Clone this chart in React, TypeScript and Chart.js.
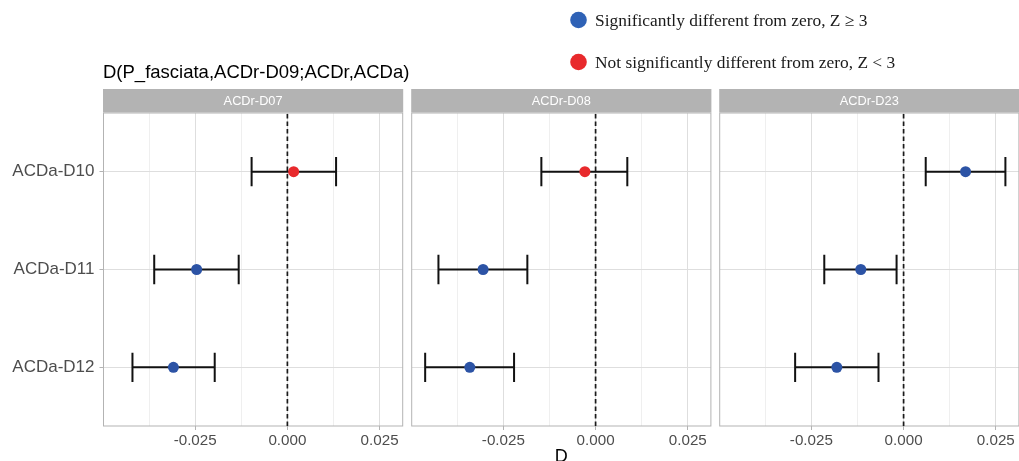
import React, { useEffect, useRef } from "react";
import { Chart, registerables } from "chart.js";

Chart.register(...registerables);

// ---------------- data ----------------
const plotTitle = "D(P_fasciata,ACDr-D09;ACDr,ACDa)";
const axisTitle = "D";
const categories = ["ACDa-D10", "ACDa-D11", "ACDa-D12"];
const facets = ["ACDr-D07", "ACDr-D08", "ACDr-D23"];

const dD07 = [0.0017, -0.0246, -0.0309];
const loD07 = [-0.0097, -0.0361, -0.042];
const hiD07 = [0.0132, -0.0132, -0.0197];
const sigD07 = [false, true, true];

const dD08 = [-0.0029, -0.0305, -0.0341];
const loD08 = [-0.0147, -0.0426, -0.0462];
const hiD08 = [0.0086, -0.0185, -0.0221];
const sigD08 = [false, true, true];

const dD23 = [0.0168, -0.0116, -0.0181];
const loD23 = [0.006, -0.0215, -0.0294];
const hiD23 = [0.0276, -0.0019, -0.0068];
const sigD23 = [true, true, true];

const xMajorTicks = [-0.025, 0, 0.025];
const xMajorLabels = ["-0.025", "0.000", "0.025"];
const xMinorTicks = [-0.0375, -0.0125, 0.0125];
const xMin = -0.04985;
const xMax = 0.03126;

const legendLabels = [
  "Significantly different from zero, Z \u2265 3",
  "Not significantly different from zero, Z < 3",
];

// ---------------- styling / layout ----------------
const W = 1019;
const H = 461;
const BLUE = "#2c53a5";
const RED = "#e8292c";
const LEGEND_BLUE = "#2f62b6";
const LEGEND_RED = "#e8292c";
const SANS = "'Liberation Sans', Arial, sans-serif";
const SERIF = "'Liberation Serif', 'Times New Roman', serif";
const panelBoxes = [
  { left: 103.5, right: 402.7 },
  { left: 411.7, right: 710.9 },
  { left: 719.7, right: 1018.9 },
];
const PANEL_TOP = 113;
const X_AXIS_H = 35;
const STRIP_TOP = 89;

const facetValues = [
  { d: dD07, lo: loD07, hi: hiD07, sig: sigD07 },
  { d: dD08, lo: loD08, hi: hiD08, sig: sigD08 },
  { d: dD23, lo: loD23, hi: hiD23, sig: sigD23 },
];

const catPos = (i: number) => categories.length - i;
const isMajor = (v: number) => xMajorTicks.some((t) => Math.abs(t - v) < 1e-9);

const decorPlugin = {
  id: "panelDecor",
  beforeDatasetsDraw(chart: any, _args: any, opts: any) {
    const { ctx, chartArea: a } = chart;
    const x = chart.scales.x;
    const y = chart.scales.y;
    const f = facetValues[opts.panel];
    ctx.save();
    // panel border
    ctx.strokeStyle = "#b3b3b3";
    ctx.lineWidth = 1;
    ctx.strokeRect(a.left, a.top, a.right - a.left, a.bottom - a.top);
    // zero reference line
    const zx = x.getPixelForValue(0);
    ctx.strokeStyle = "#1a1a1a";
    ctx.lineWidth = 1.7;
    ctx.setLineDash([4.5, 3]);
    ctx.beginPath();
    ctx.moveTo(zx, a.bottom);
    ctx.lineTo(zx, a.top);
    ctx.stroke();
    ctx.setLineDash([]);
    // error bars
    ctx.strokeStyle = "#111111";
    ctx.lineWidth = 2;
    ctx.lineCap = "butt";
    f.d.forEach((_v: number, i: number) => {
      const yc = y.getPixelForValue(catPos(i));
      const y0 = y.getPixelForValue(catPos(i) + 0.15);
      const y1 = y.getPixelForValue(catPos(i) - 0.15);
      const xl = x.getPixelForValue(f.lo[i]);
      const xr = x.getPixelForValue(f.hi[i]);
      ctx.beginPath();
      ctx.moveTo(xl, yc);
      ctx.lineTo(xr, yc);
      ctx.moveTo(xl, y0);
      ctx.lineTo(xl, y1);
      ctx.moveTo(xr, y0);
      ctx.lineTo(xr, y1);
      ctx.stroke();
    });
    ctx.restore();
  },
  afterDraw(chart: any, _args: any, opts: any) {
    const { ctx, chartArea: a } = chart;
    ctx.save();
    // strip
    ctx.fillStyle = "#b3b3b3";
    ctx.fillRect(a.left - 0.5, STRIP_TOP, a.right - a.left + 1, a.top - 0.5 - STRIP_TOP);
    ctx.fillStyle = "#ffffff";
    ctx.font = `12.8px ${SANS}`;
    ctx.textAlign = "center";
    ctx.textBaseline = "middle";
    ctx.fillText(facets[opts.panel], (a.left + a.right) / 2, (STRIP_TOP + a.top) / 2 + 0.5);

    if (opts.panel === 0) {
      // title
      ctx.fillStyle = "#000000";
      ctx.font = `18.5px ${SANS}`;
      ctx.textAlign = "left";
      ctx.textBaseline = "alphabetic";
      ctx.fillText(plotTitle, 103, 78);
      // legend
      const colors = [LEGEND_BLUE, LEGEND_RED];
      const ys = [20, 62];
      legendLabels.forEach((lab, i) => {
        ctx.fillStyle = colors[i];
        ctx.beginPath();
        ctx.arc(578.5, ys[i], 8.3, 0, Math.PI * 2);
        ctx.fill();
        ctx.fillStyle = "#1a1a1a";
        ctx.font = `17.4px ${SERIF}`;
        ctx.textAlign = "left";
        ctx.textBaseline = "middle";
        ctx.fillText(lab, 595, ys[i] + 1);
      });
    }
    if (opts.panel === 1) {
      ctx.fillStyle = "#000000";
      ctx.font = `18px ${SANS}`;
      ctx.textAlign = "center";
      ctx.textBaseline = "alphabetic";
      ctx.fillText(axisTitle, (a.left + a.right) / 2, 462);
    }
    ctx.restore();
  },
};

function Panel({ panel }: { panel: number }) {
  const ref = useRef<HTMLCanvasElement>(null);
  useEffect(() => {
    const f = facetValues[panel];
    const box = panelBoxes[panel];
    const showY = panel === 0;
    const chart = new Chart(ref.current as HTMLCanvasElement, {
      type: "scatter",
      data: {
        datasets: [
          {
            data: f.d.map((v, i) => ({ x: v, y: catPos(i) })),
            backgroundColor: f.sig.map((s) => (s ? BLUE : RED)),
            borderWidth: 0,
            pointRadius: 5.5,
            pointHoverRadius: 5.5,
            clip: false,
          },
        ],
      },
      options: {
        animation: false,
        responsive: false,
        maintainAspectRatio: false,
        devicePixelRatio: 1,
        events: [],
        layout: {
          autoPadding: false,
          padding: {
            left: showY ? 0 : box.left,
            right: W - box.right,
            top: PANEL_TOP,
            bottom: 0,
          },
        },
        plugins: {
          legend: { display: false },
          tooltip: { enabled: false },
          title: { display: false },
          panelDecor: { panel },
        } as any,
        scales: {
          x: {
            type: "linear",
            position: "bottom",
            min: xMin,
            max: xMax,
            afterBuildTicks: (scale: any) => {
              scale.ticks = [...xMinorTicks, ...xMajorTicks]
                .sort((p, q) => p - q)
                .map((v) => ({ value: v }));
            },
            afterFit: (scale: any) => {
              scale.height = X_AXIS_H;
              scale.paddingLeft = 0;
              scale.paddingRight = 0;
            },
            border: { display: false },
            grid: {
              color: (c: any) => (isMajor(c.tick.value) ? "#dedede" : "#efefef"),
              tickColor: (c: any) => (isMajor(c.tick.value) ? "#b3b3b3" : "rgba(0,0,0,0)"),
              lineWidth: 1,
              tickLength: 4,
              drawTicks: true,
            },
            ticks: {
              autoSkip: false,
              maxRotation: 0,
              padding: 2,
              color: "#4d4d4d",
              font: { family: SANS, size: 15.2 },
              callback: (v: any) => {
                const idx = xMajorTicks.findIndex((t) => Math.abs(t - Number(v)) < 1e-9);
                return idx >= 0 ? xMajorLabels[idx] : "";
              },
            },
          },
          y: {
            type: "linear",
            position: "left",
            min: 0.4,
            max: categories.length + 0.6,
            afterBuildTicks: (scale: any) => {
              scale.ticks = categories.map((_c, i) => ({ value: catPos(i) }));
            },
            afterFit: (scale: any) => {
              scale.width = showY ? box.left : 0;
              scale.paddingTop = 0;
              scale.paddingBottom = 0;
            },
            border: { display: false },
            grid: {
              color: "#dedede",
              tickColor: "#b3b3b3",
              lineWidth: 1,
              tickLength: 4,
              drawTicks: showY,
            },
            ticks: {
              display: showY,
              autoSkip: false,
              padding: 5,
              color: "#4d4d4d",
              font: { family: SANS, size: 17 },
              callback: (v: any) => categories[categories.length - Number(v)] ?? "",
            },
          },
        },
      },
      plugins: [decorPlugin],
    } as any);
    return () => chart.destroy();
  }, [panel]);
  return (
    <canvas
      ref={ref}
      width={W}
      height={H}
      style={{ position: "absolute", left: 0, top: 0, width: W, height: H }}
    />
  );
}

export default function App() {
  return (
    <div style={{ position: "absolute", left: 0, top: 0, width: W, height: H, background: "#ffffff" }}>
      {facets.map((_f, i) => (
        <Panel key={i} panel={i} />
      ))}
    </div>
  );
}
